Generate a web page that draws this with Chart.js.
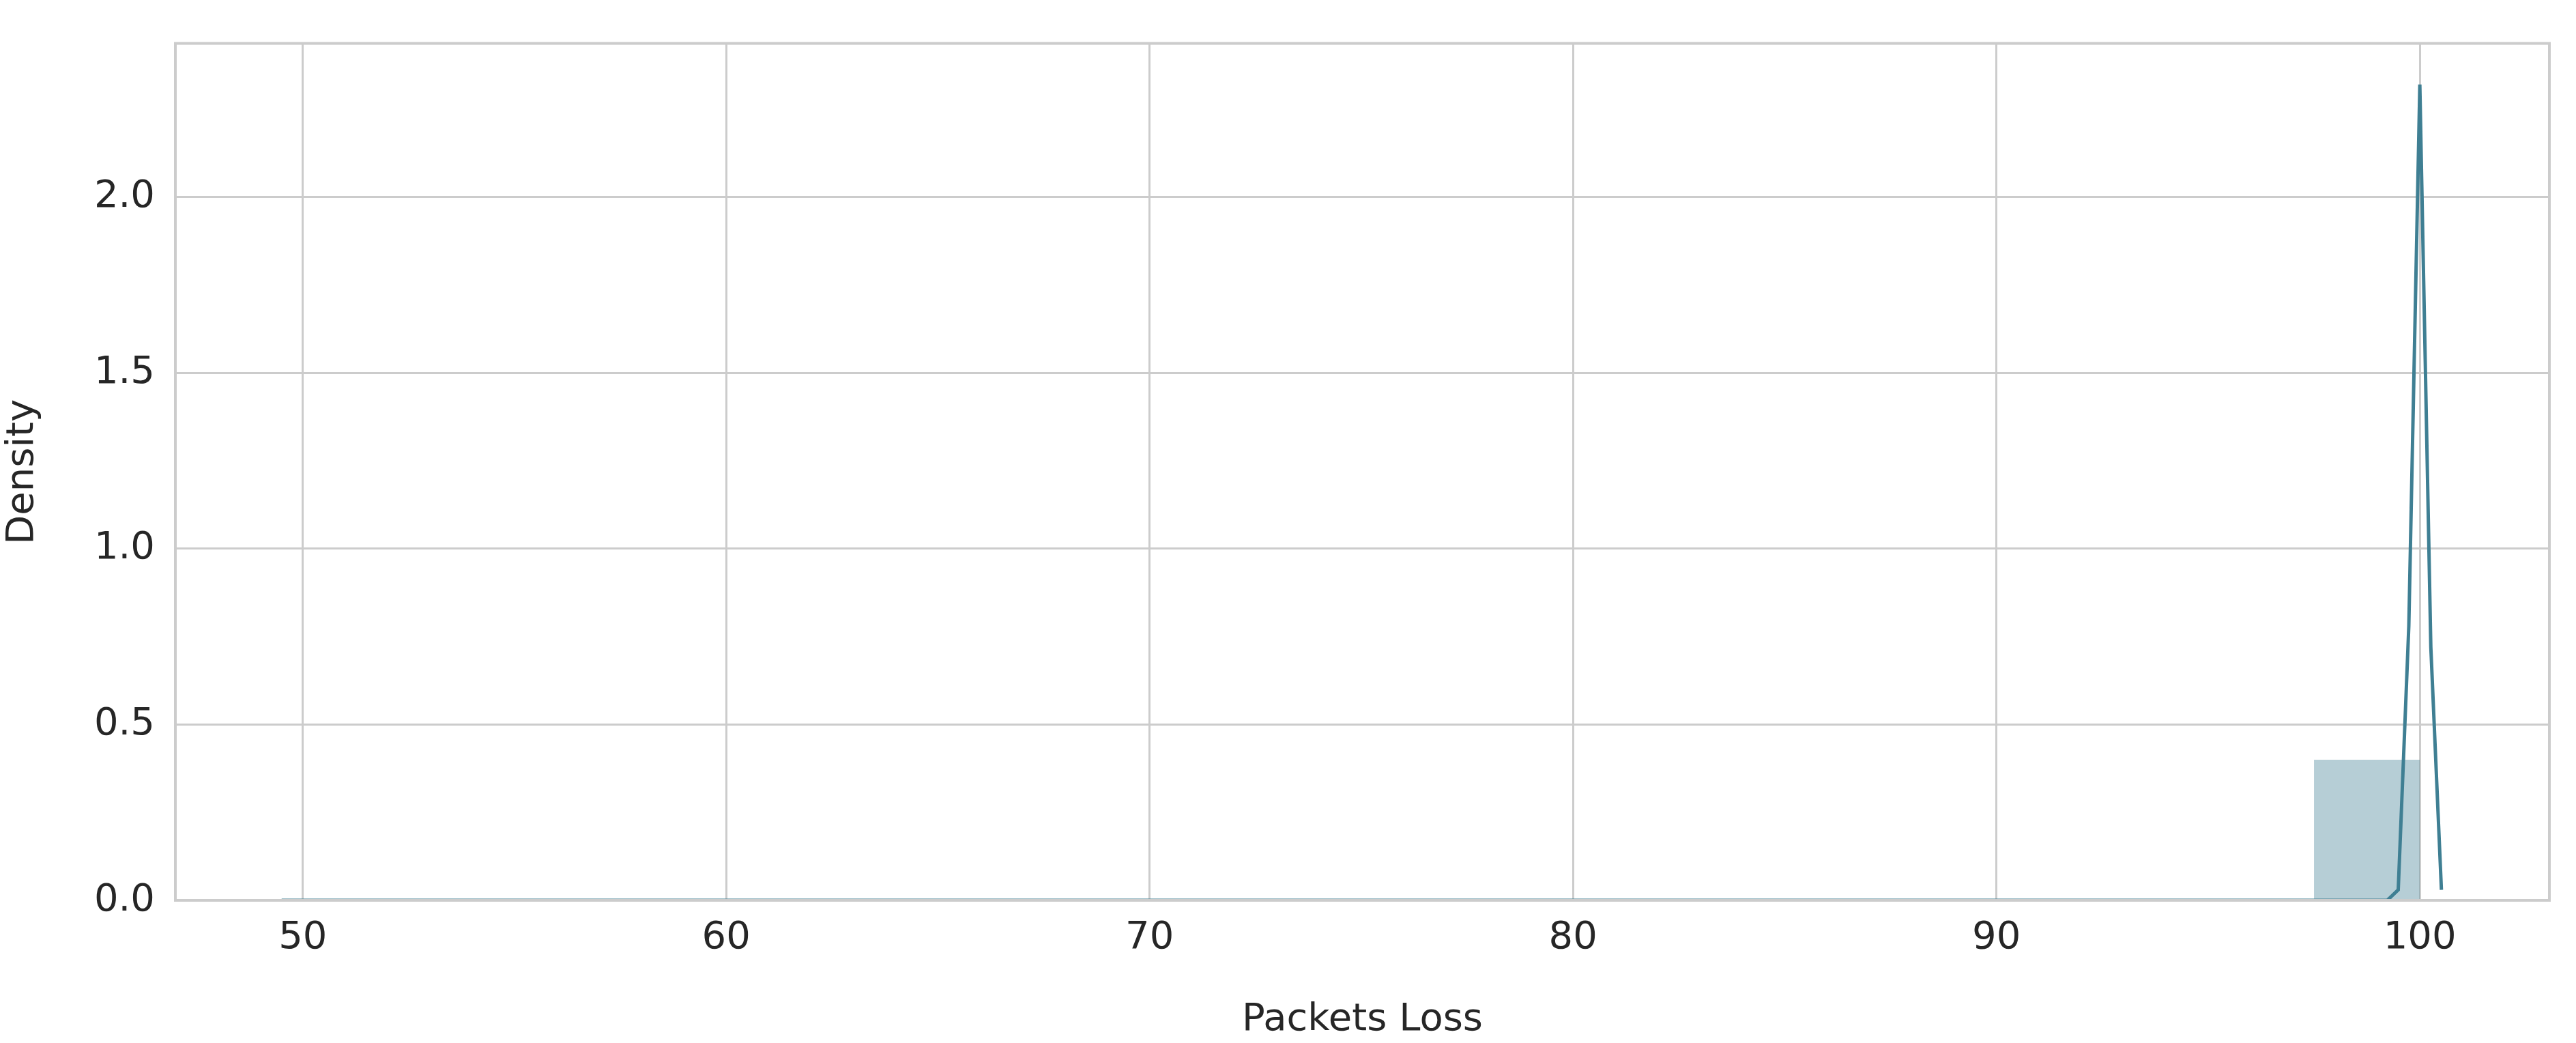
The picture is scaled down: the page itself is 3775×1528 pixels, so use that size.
<!DOCTYPE html>
<html><head><meta charset="utf-8">
<script src="https://cdn.jsdelivr.net/npm/chart.js@4/dist/chart.umd.min.js"></script>
<style>html,body{margin:0;padding:0;background:#fff}canvas{display:block}</style>
</head><body>
<div style="width:3775px;height:1528px"><canvas id="c" width="3775" height="1528"></canvas></div>
<script>
const histBinEdges = [97.5, 100];
const histDensity = [0.4];
const kdeX = [49.5, 99.23, 99.49, 99.74, 100.0, 100.26, 100.51];
const kdeY = [0.0, 0.0, 0.03, 0.78, 2.32, 0.72, 0.03];
const xTicks = [50, 60, 70, 80, 90, 100];
const yTicks = [0.0, 0.5, 1.0, 1.5, 2.0];

const histPts = [];
histDensity.forEach((d, i) => {
  histPts.push({x: histBinEdges[i], y: 0}, {x: histBinEdges[i], y: d}, {x: histBinEdges[i+1], y: d}, {x: histBinEdges[i+1], y: 0});
});
const kdePts = kdeX.map((x, i) => ({x, y: kdeY[i]}));

const frame = {id:'frame', afterDraw(c){const a=c.chartArea,g=c.ctx;g.save();g.strokeStyle='#cccccc';g.lineWidth=4;g.strokeRect(a.left,a.top,a.right-a.left,a.bottom-a.top);g.restore();}};
const font = {family:'DejaVu Sans', size:56};
new Chart(document.getElementById('c'), {
  type: 'line',
  data: {datasets: [
    {data: histPts, borderWidth: 0, borderColor: 'rgba(0,0,0,0)', backgroundColor: 'rgba(63,127,147,0.38)', fill: 'origin', pointRadius: 0, tension: 0, order: 2},
    {data: kdePts, borderColor: '#3f7f93', borderWidth: 5, fill: false, pointRadius: 0, tension: 0, order: 1}
  ]},
  options: {
    responsive: false, devicePixelRatio: 1, animation: false,
    layout: {padding: {left: 0, top: 41, right: 39, bottom: 0}},
    plugins: {legend: {display: false}, tooltip: {enabled: false}},
    scales: {
      x: {type: 'linear', min: 46.99, max: 103.06,
        afterBuildTicks: s => { s.ticks = xTicks.map(v => ({value: v})); },
        afterFit: s => { s.height = 209; },
        grid: {color: '#cccccc', lineWidth: 3, drawTicks: false},
        border: {display: false},
        ticks: {font, color: '#262626', padding: 22},
        title: {display: true, text: 'Packets Loss', font, color: '#262626', padding: {top: 8, bottom: 0}}
      },
      y: {type: 'linear', min: 0, max: 2.437,
        afterBuildTicks: s => { s.ticks = yTicks.map(v => ({value: v})); },
        afterFit: s => { s.width = 257; },
        grid: {color: '#cccccc', lineWidth: 3, drawTicks: false},
        border: {display: false},
        ticks: {font, color: '#262626', padding: 30, callback: v => v.toFixed(1)},
        title: {display: true, text: 'Density', font, color: '#262626', padding: {top: 0, bottom: 10}}
      }
    }
  },
  plugins: [frame]
});
</script>
</body></html>
